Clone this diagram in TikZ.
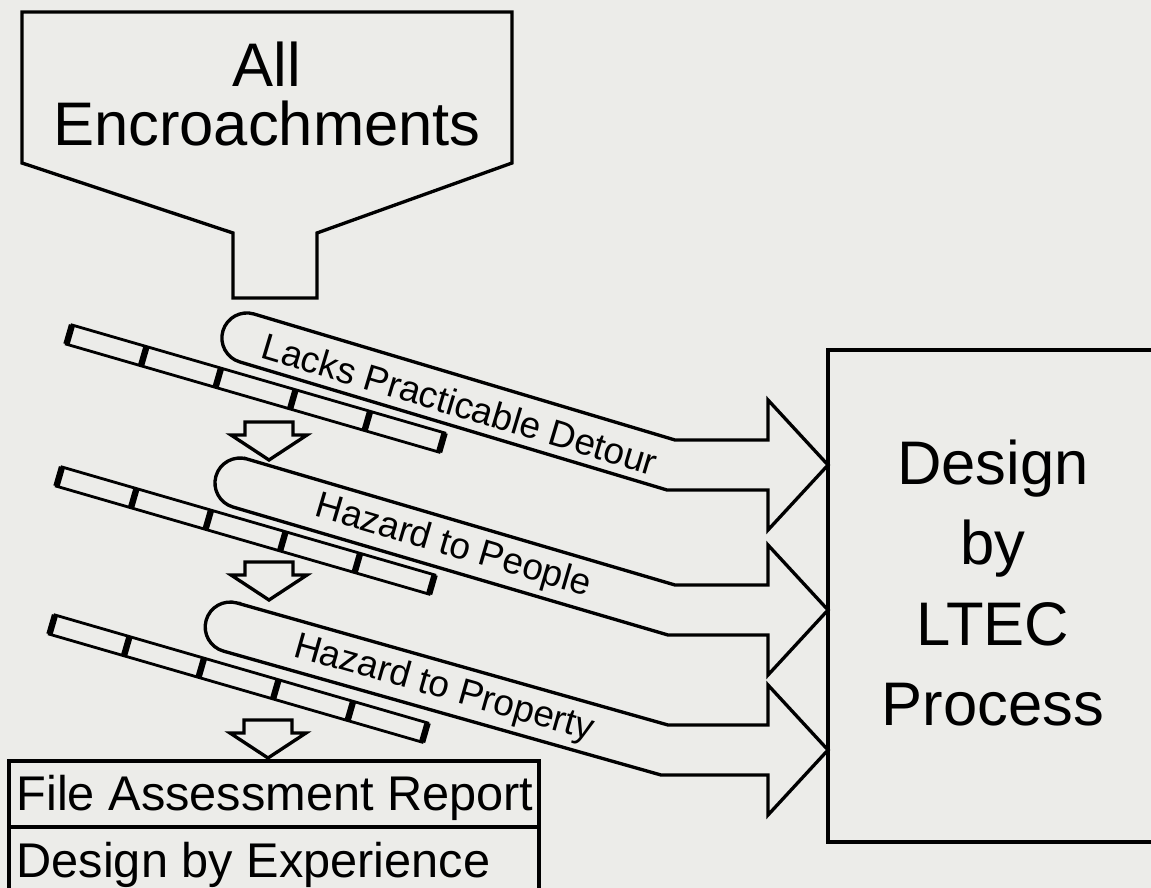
\documentclass[tikz,border=0pt]{standalone}
\usepackage{fontspec}
\setmainfont{Liberation Sans}

\definecolor{paper}{RGB}{236,236,233}

\begin{document}
\begin{tikzpicture}[
        x = 0.01cm, % one unit per pixel
        y = -0.01cm, % y runs downwards
        line join = miter,
        line width = 0.9pt % line style
    ]

    \tikzstyle{outline}=[
        draw = black,
        line width = 0.95pt
    ]
    \tikzstyle{barline}=[draw = black, line width = 0.8pt]
    \tikzstyle{barcut}=[draw = black, line width = 1.8pt]
    \tikzstyle{bigtext}=[
        align = center,
        inner sep = 0pt,
        font = \fontsize{17.5}{16.5}\selectfont
    ]
    \tikzstyle{bandlabel}=[inner sep = 0pt, font = \fontsize{10.5}{12}\selectfont]
    \tikzstyle{reporttext}=[anchor = base west, inner sep = 0pt, font = \fontsize{13.85}{16}\selectfont]

    % paper
    \fill[paper] (0,0) rectangle (1151,888);
    \useasboundingbox (0,0) rectangle (1151,888);
    \clip (0,0) rectangle (1151,888);

    % funnel
    \draw[outline] (22,12) -- (512,12) -- (512,163) -- (317,233) -- (317,298)
        -- (233,298) -- (233,233) -- (22,163) -- cycle;
    \node[bigtext] (all) at (267,94) {All\\Encroachments};

    % screens
    \foreach \bx/\by in {72/325, 62/467, 55/615} {
        \begin{scope}[shift={(\bx,\by)}, rotate=-16.15]
            \draw[barline] (0,0) rectangle (388,20);
            \foreach \k in {0,...,5}
                \draw[barcut] (\k*77.6,0) -- (\k*77.6,20);
        \end{scope}
    }

    % small arrows down
    \foreach \ax/\ay in {269/422, 269/562, 268/720}
        \draw[outline] (\ax-24,\ay) -- (\ax+24,\ay) -- (\ax+24,\ay+13) -- (\ax+38,\ay+13)
            -- (\ax,\ay+38) -- (\ax-38,\ay+13) -- (\ax-24,\ay+13) -- cycle;

    % bands
    \draw[outline] (254,314) -- (675,440) -- (768,440) -- (768,400) -- (828,465)
        -- (768,530) -- (768,490) -- (667,490) -- (239.7,361.9)
        arc[start angle=106.7, end angle=286.7, radius=25] -- cycle;
    \draw[outline] (247,459) -- (675,585) -- (768,585) -- (768,545) -- (828,610)
        -- (768,675) -- (768,635) -- (668,635) -- (232.9,507)
        arc[start angle=106.4, end angle=286.4, radius=25] -- cycle;
    \draw[outline] (237,603) -- (668,725) -- (768,725) -- (768,685) -- (828,750)
        -- (768,815) -- (768,775) -- (661,775) -- (223.4,651.1)
        arc[start angle=105.8, end angle=285.8, radius=25] -- cycle;

    \node[bandlabel, rotate=-16.7] (detour) at (460,404) {Lacks Practicable Detour};
    \node[bandlabel, rotate=-16.4] (people) at (453,547) {Hazard to People};
    \node[bandlabel, rotate=-15.8] (property) at (444,689) {Hazard to Property};

    % LTEC box
    \draw[outline] (1160,350) -- (828,350) -- (828,842) -- (1160,842);
    \node[bigtext, font = \fontsize{17.5}{22.8}\selectfont] (ltec) at (993,583)
        {Design\\by\\LTEC\\Process};

    % report box
    \draw[outline] (9,900) -- (9,761) -- (539,761) -- (539,900);
    \draw[outline] (9,827) -- (539,827);
    \node[reporttext] (report) at (15,810) {File Assessment Report};
    \node[reporttext] (experience) at (15,877) {Design by Experience};

\end{tikzpicture}
\end{document}
